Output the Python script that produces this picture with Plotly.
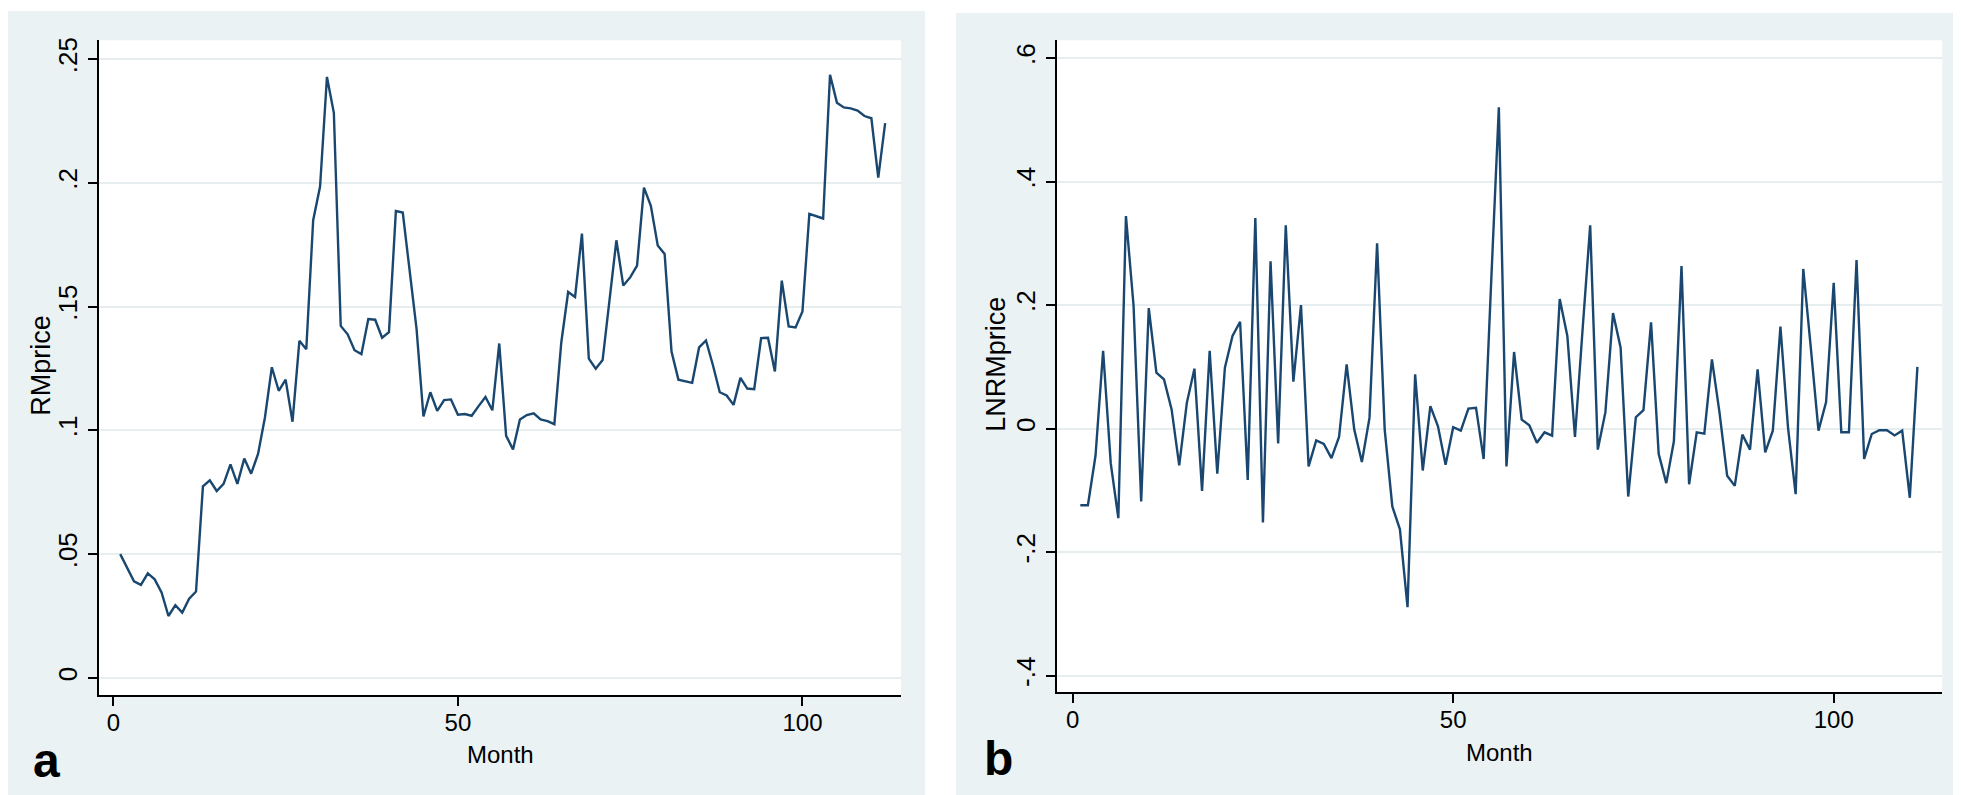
import plotly.graph_objects as go

# ---------------- data ----------------
months_rm = list(range(1, 113))
rm_price = [
    0.050, 0.0444, 0.039, 0.0376, 0.0422, 0.0398, 0.0345, 0.025, 0.0294, 0.0264,
    0.032, 0.0349, 0.0774, 0.0798, 0.0755, 0.0784, 0.0863, 0.0784, 0.0886, 0.0825,
    0.0905, 0.1052, 0.1255, 0.116, 0.1205, 0.1035, 0.1362, 0.1328, 0.1849, 0.1985,
    0.2428, 0.2283, 0.1422, 0.1388, 0.1324, 0.1308, 0.1450, 0.1447, 0.1374, 0.1397,
    0.1886, 0.188, 0.1645, 0.141, 0.1056, 0.1154, 0.1079, 0.1122, 0.1125, 0.1063,
    0.1066, 0.1059, 0.1098, 0.1135, 0.1081, 0.1351, 0.0978, 0.0923, 0.1044, 0.1062,
    0.1069, 0.1044, 0.1037, 0.1025, 0.1354, 0.1559, 0.1539, 0.1795, 0.129, 0.1249,
    0.1284, 0.1527, 0.1768, 0.1585, 0.1618, 0.1666, 0.1981, 0.1907, 0.1747, 0.1713,
    0.1318, 0.1205, 0.1199, 0.1192, 0.1335, 0.1363, 0.1264, 0.1154, 0.1141, 0.1103,
    0.1212, 0.1169, 0.1166, 0.1373, 0.1374, 0.1238, 0.1605, 0.142, 0.1416, 0.148,
    0.1875, 0.1866, 0.1856, 0.2437, 0.2324, 0.2305, 0.2301, 0.2292, 0.227, 0.2261,
    0.2021, 0.2241,
]

months_ln = list(range(1, 112))
lnrm_price = [
    -0.124, -0.124, -0.044, 0.126, -0.056, -0.145, 0.344, 0.199, -0.118, 0.195,
    0.0905, 0.0797, 0.031, -0.0596, 0.0417, 0.097, -0.1008, 0.126, -0.073, 0.0986,
    0.150, 0.173, -0.083, 0.341, -0.152, 0.271, -0.024, 0.329, 0.0759, 0.200,
    -0.0612, -0.019, -0.0249, -0.0477, -0.0136, 0.104, -0.0016, -0.0542, 0.0173, 0.300,
    -0.0016, -0.126, -0.163, -0.289, 0.0878, -0.0678, 0.0363, 0.0038, -0.0585, 0.0022,
    -0.0033, 0.0325, 0.0336, -0.0493, 0.24, 0.520, -0.0612, 0.124, 0.0146, 0.0054,
    -0.023, -0.006, -0.0114, 0.2098, 0.150, -0.0136, 0.16, 0.329, -0.034, 0.0266,
    0.187, 0.131, -0.110, 0.0184, 0.0298, 0.172, -0.0407, -0.0883, -0.0206, 0.263,
    -0.09, -0.006, -0.0081, 0.112, 0.0255, -0.0764, -0.0927, -0.0098, -0.034, 0.096,
    -0.0385, -0.0033, 0.165, 0.001, -0.106, 0.2585, 0.13, -0.0033, 0.043, 0.236,
    -0.006, -0.006, 0.273, -0.049, -0.0087, -0.0027, -0.0027, -0.011, -0.0033, -0.112,
    0.100,
]

x_ticks = [0, 50, 100]
x_tick_text = ["0", "50", "100"]
rm_ticks = [0, 0.05, 0.1, 0.15, 0.2, 0.25]
rm_tick_text = ["0", ".05", ".1", ".15", ".2", ".25"]
ln_ticks = [-0.4, -0.2, 0, 0.2, 0.4, 0.6]
ln_tick_text = ["-.4", "-.2", "0", ".2", ".4", ".6"]

# ---------------- style ----------------
W, H = 1961, 795
NAVY = "#1A476F"
BG = "#EAF2F3"
GRID = "#E6EEF0"
FONT = "Liberation Sans, Arial, sans-serif"

fig = go.Figure()
fig.add_trace(go.Scatter(x=months_rm, y=rm_price, mode="lines",
                         line=dict(color=NAVY, width=2.4), xaxis="x", yaxis="y",
                         showlegend=False))
fig.add_trace(go.Scatter(x=months_ln, y=lnrm_price, mode="lines",
                         line=dict(color=NAVY, width=2.4), xaxis="x2", yaxis="y2",
                         showlegend=False))

def px_x(p):
    return p / W

def px_y(p):
    return 1 - p / H

L1, R1, T1, B1 = 91, 893, 29.4, 687
L2, R2, T2, B2 = 1048.7, 1934.3, 29.4, 683.6

common_x = dict(showgrid=False, zeroline=False, showline=True, linecolor="black",
                linewidth=1.5, ticks="outside", ticklen=9, tickwidth=1.5,
                tickcolor="black", tickfont=dict(size=24, color="black", family=FONT),
                ticklabelstandoff=-4,
                tickvals=x_ticks, ticktext=x_tick_text)
common_y = dict(showgrid=True, gridcolor=GRID, gridwidth=2, zeroline=False,
                showline=True, linecolor="black", linewidth=1.5, ticks="outside",
                ticklen=9, tickwidth=1.5, tickcolor="black", tickangle=-90,
                ticklabelstandoff=1,
                tickfont=dict(size=26, color="black", family=FONT))

title_font = dict(size=24, color="black", family=FONT)
ytitle_font = dict(size=27, color="black", family=FONT)

fig.update_layout(
    width=W, height=H,
    margin=dict(l=0, r=0, t=0, b=0),
    paper_bgcolor="white", plot_bgcolor="white",
    font=dict(family=FONT, color="black"),
    xaxis=dict(domain=[px_x(L1), px_x(R1)], range=[-2.08, 114.3], anchor="y",
               **common_x),
    yaxis=dict(domain=[px_y(B1), px_y(T1)], range=[-0.00708, 0.2576], anchor="x",
               tickvals=rm_ticks, ticktext=rm_tick_text, **common_y),
    xaxis2=dict(domain=[px_x(L2), px_x(R2)], range=[-2.10, 114.27], anchor="y2",
                **common_x),
    yaxis2=dict(domain=[px_y(B2), px_y(T2)], range=[-0.4264, 0.6286], anchor="x2",
                tickvals=ln_ticks, ticktext=ln_tick_text, **common_y),
    shapes=[
        dict(type="rect", xref="paper", yref="paper", x0=0, x1=px_x(917), y0=0, y1=1,
             fillcolor=BG, line=dict(width=0), layer="below"),
        dict(type="rect", xref="paper", yref="paper", x0=px_x(948), x1=1,
             y0=px_y(791), y1=px_y(2), fillcolor=BG, line=dict(width=0), layer="below"),
        dict(type="rect", xref="paper", yref="paper", x0=px_x(L1), x1=px_x(R1),
             y0=px_y(B1), y1=px_y(T1), fillcolor="white", line=dict(width=0),
             layer="below"),
        dict(type="rect", xref="paper", yref="paper", x0=px_x(L2), x1=px_x(R2),
             y0=px_y(B2), y1=px_y(T2), fillcolor="white", line=dict(width=0),
             layer="below"),
    ],
    annotations=[
        # axis titles
        dict(text="Month", xref="paper", yref="paper", x=px_x((L1 + R1) / 2),
             y=px_y(746), showarrow=False, xanchor="center", yanchor="middle",
             font=title_font),
        dict(text="Month", xref="paper", yref="paper", x=px_x((L2 + R2) / 2),
             y=px_y(744), showarrow=False, xanchor="center", yanchor="middle",
             font=title_font),
        dict(text="RMprice", xref="paper", yref="paper", x=px_x(33), y=px_y(356),
             textangle=-90, showarrow=False, xanchor="center", yanchor="middle",
             font=ytitle_font),
        dict(text="LNRMprice", xref="paper", yref="paper", x=px_x(988), y=px_y(355),
             textangle=-90, showarrow=False, xanchor="center", yanchor="middle",
             font=ytitle_font),
        # panel letters
        dict(text="<b>a</b>", xref="paper", yref="paper", x=px_x(38), y=px_y(752),
             showarrow=False, xanchor="center", yanchor="middle",
             font=dict(size=48, color="black", family=FONT)),
        dict(text="<b>b</b>", xref="paper", yref="paper", x=px_x(990), y=px_y(750),
             showarrow=False, xanchor="center", yanchor="middle",
             font=dict(size=48, color="black", family=FONT)),
    ],
)

fig.write_html("out.html")
